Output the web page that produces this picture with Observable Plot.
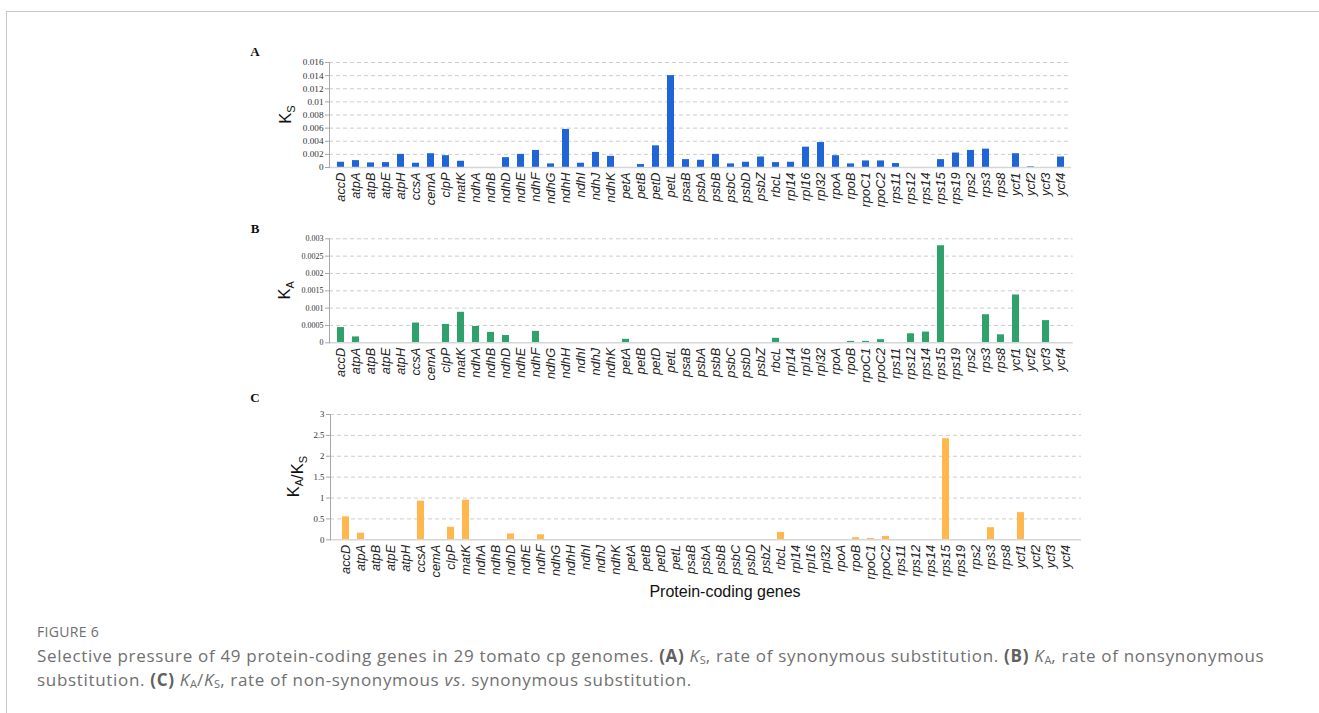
<!DOCTYPE html>
<html>
<head>
<meta charset="utf-8">
<script src="https://cdn.jsdelivr.net/npm/d3@7"></script>
<script src="https://cdn.jsdelivr.net/npm/@observablehq/plot@0.6"></script>
<style>
  html, body { margin: 0; padding: 0; background: #fff; }
  #page { position: relative; width: 1319px; height: 713px; overflow: hidden; background: #fff; }
  #frame { position: absolute; left: 6px; top: 11px; width: 1320px; height: 710px;
           border-left: 1px solid #c8c8c8; border-top: 1px solid #c8c8c8; }
  .panel { position: absolute; left: 0; }
  #xtitle { position: absolute; top: 583px; left: 725px; transform: translateX(-50%);
            font-family: "Liberation Sans", Arial, sans-serif; font-size: 16px; color: #111; white-space: nowrap; }
  #figlabel { position: absolute; left: 37px; top: 622px; font-family: "Open Sans", "Noto Sans", sans-serif;
              font-size: 14px; color: #6e6e6e; letter-spacing: 0.3px; }
  #caption { position: absolute; left: 37px; top: 644px; font-family: "Open Sans", "Noto Sans", sans-serif;
             font-size: 17px; line-height: 24px; letter-spacing: 0.68px; color: #707070; white-space: nowrap; }
  #caption b { font-weight: 700; color: #606060; }
  #caption sub { font-size: 11px; vertical-align: -2px; line-height: 0; letter-spacing: 0; }
</style>
</head>
<body>
<div id="page">
  <div id="frame"></div>
  <div id="pA" class="panel" style="top:40px"></div>
  <div id="pB" class="panel" style="top:218px"></div>
  <div id="pC" class="panel" style="top:388px"></div>
  <div id="xtitle">Protein-coding genes</div>
  <div id="figlabel">FIGURE 6</div>
  <div id="caption">Selective pressure of 49 protein-coding genes in 29 tomato cp genomes. <b>(A)</b> <i>K</i><sub>S</sub>, rate of synonymous substitution. <b>(B)</b> <i>K</i><sub>A</sub>, rate of nonsynonymous<br>substitution. <b>(C)</b> <i>K</i><sub>A</sub>/<i>K</i><sub>S</sub>, rate of non-synonymous <i>vs</i>. synonymous substitution.</div>
</div>
<script>
const genes = ["accD","atpA","atpB","atpE","atpH","ccsA","cemA","clpP","matK","ndhA","ndhB","ndhD","ndhE","ndhF","ndhG","ndhH","ndhI","ndhJ","ndhK","petA","petB","petD","petL","psaB",
  "psbA","psbB","psbC","psbD","psbZ","rbcL","rpl14","rpl16","rpl32","rpoA","rpoB","rpoC1","rpoC2","rps11","rps12","rps14","rps15","rps19","rps2","rps3","rps8","ycf1","ycf2","ycf3","ycf4"];

const ks = [0.0008,0.00105,0.0007,0.00075,0.002,0.00065,0.0021,0.0018,0.00095,0,0,0.0015,0.002,0.0026,0.00055,0.0058,0.00065,0.0023,0.0017,0,0.00045,0.0033,0.014,0.0012,
  0.0011,0.002,0.00055,0.0008,0.0016,0.00075,0.0008,0.0031,0.0038,0.0018,0.00055,0.001,0.001,0.0006,0,0,0.0012,0.0022,0.0026,0.0028,0,0.0021,0.0001,0,0.0016];

const ka = [0.00044,0.00017,0,0,0,0.00057,0,0.00053,0.00088,0.00047,0.0003,0.00021,0,0.00033,0,0,0,0,0,0.0001,0,0,0,0,
  0,0,0,0,0,0.00013,0,0,0,0,0.00004,0.00004,0.00009,0,0.00026,0.00031,0.0028,0,0,0.00081,0.00023,0.00138,0,0.00064,0];

const kaks = [0.55,0.16,0,0,0,0.925,0,0.3,0.95,0,0,0.14,0,0.12,0,0,0,0,0,0,0,0,0,0,
  0,0,0,0,0,0.175,0,0,0,0,0.05,0.03,0.08,0,0,0,2.42,0,0,0.29,0,0.65,0,0,0];

const ticksA = [0,0.002,0.004,0.006,0.008,0.01,0.012,0.014,0.016];
const ticksB = [0,0.0005,0.001,0.0015,0.002,0.0025,0.003];
const ticksC = [0,0.5,1,1.5,2,2.5,3];

const W = 1319;

function panel({el, values, ticks, tickFont, color, left, right, top, plotH, bottom, letter, letterY, label, labelX}) {
  const data = genes.map((g, i) => ({gene: g, value: values[i]}));
  const height = top + plotH + bottom;
  const svg = Plot.plot({
    width: W,
    height,
    marginLeft: left,
    marginRight: W - right,
    marginTop: top,
    marginBottom: bottom,
    style: {background: "transparent", overflow: "visible", fontFamily: "Liberation Sans, Arial, sans-serif"},
    x: {type: "band", domain: genes, paddingInner: 0.54, paddingOuter: 0.27},
    y: {domain: [ticks[0], ticks[ticks.length - 1]]},
    marks: [
      Plot.gridY(ticks.slice(1), {stroke: "#cdcdcd", strokeOpacity: 1, strokeDasharray: "4,3"}),
      Plot.barY(data, {x: "gene", y: "value", fill: color}),
      Plot.ruleY([0], {stroke: "#d6d6d6", strokeWidth: 1.6}),
      Plot.frame({anchor: "left", stroke: "#a8a8a8"}),
      Plot.axisY({ticks, tickSize: 4, tickPadding: 2, stroke: "#a8a8a8", fill: "#333",
        fontFamily: "Liberation Serif, Times New Roman, serif", fontSize: tickFont,
        tickFormat: d => String(d), label: null}),
      Plot.axisX({tickRotate: -90, tickSize: 0, tickPadding: 5, fontSize: 12.8, fontStyle: "italic",
        fill: "#222", fontFamily: "Liberation Sans, Arial, sans-serif", label: null})
    ]
  });
  const s = d3.select(svg);
  s.append("text").attr("x", 255).attr("y", letterY)
    .attr("font-family", "Liberation Serif, Times New Roman, serif").attr("font-weight", "bold")
    .attr("font-size", 13).attr("fill", "#111").text(letter);
  const t = s.append("text")
    .attr("transform", `translate(${labelX},${top + plotH / 2}) rotate(-90)`)
    .attr("text-anchor", "middle").attr("font-family", "Liberation Sans, Arial, sans-serif")
    .attr("font-size", 16.5).attr("fill", "#111");
  label.forEach(([main, sub]) => {
    t.append("tspan").text(main);
    if (sub) t.append("tspan").attr("font-size", 11).attr("dy", 4).text(sub);
    if (sub) t.append("tspan").attr("dy", -4).text("");
  });
  document.getElementById(el).appendChild(svg);
}

panel({el: "pA", values: ks, ticks: ticksA, tickFont: 9.2, color: "#1f65d8", left: 329, right: 1071,
  top: 22, plotH: 105, bottom: 51, letter: "A", letterY: 16, label: [["K", "S"]], labelX: 291});
panel({el: "pB", values: ka, ticks: ticksB, tickFont: 8, color: "#2fa26c", left: 329, right: 1072.7,
  top: 20.3, plotH: 104, bottom: 45.7, letter: "B", letterY: 15, label: [["K", "A"]], labelX: 290});
panel({el: "pC", values: kaks, ticks: ticksC, tickFont: 8.8, color: "#ffb74e", left: 330, right: 1081,
  top: 26, plotH: 125.3, bottom: 48, letter: "C", letterY: 14, label: [["K", "A"], ["/K", "S"]], labelX: 299});
</script>
</body>
</html>
